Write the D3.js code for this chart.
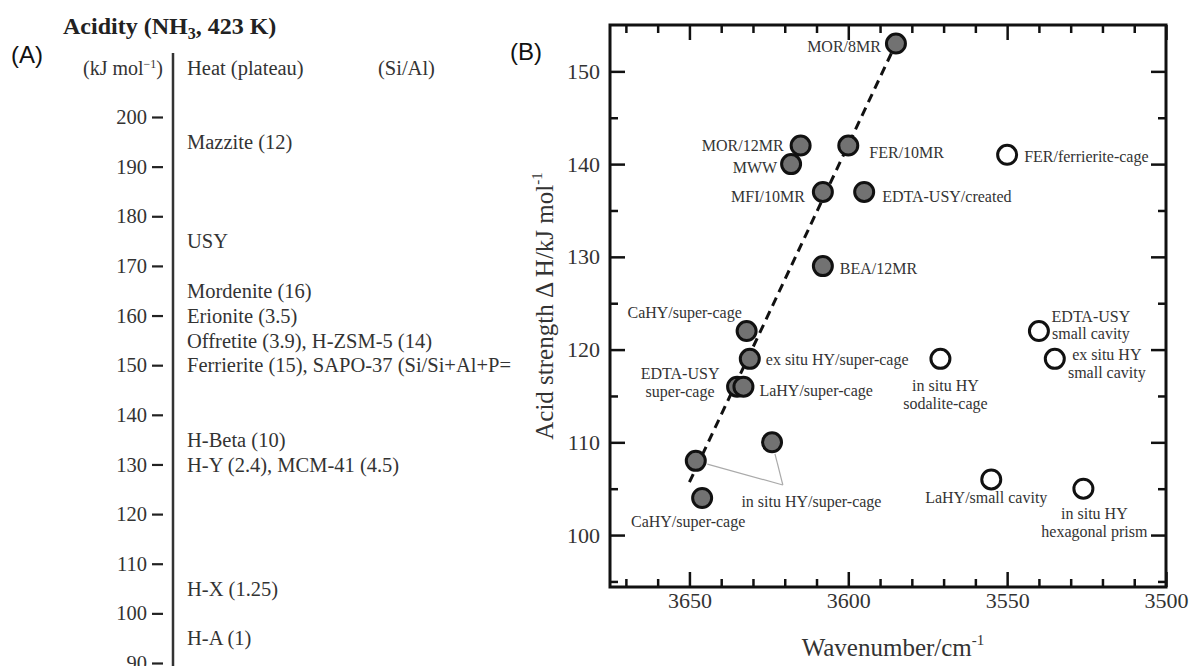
<!DOCTYPE html>
<meta charset="utf-8">
<style>
  body {
    margin: 0;
    background-color: white;
  }
  svg text {
    font-family: "Liberation Serif", "Times New Roman", serif;
  }
</style>
<script src="https://cdn.jsdelivr.net/npm/d3@7"></script>
<body>
<div id="chart"></div>
<script>
// ---- panel (A): heat of NH3 adsorption ladder
const heatTicks = [90, 100, 110, 120, 130, 140, 150, 160, 170, 180, 190, 200];
const zeoliteNames = ["Mazzite (12)", "USY", "Mordenite (16)", "Erionite (3.5)",
  "Offretite (3.9), H-ZSM-5 (14)", "Ferrierite (15), SAPO-37 (Si/Si+Al+P=",
  "H-Beta (10)", "H-Y (2.4), MCM-41 (4.5)", "H-X (1.25)", "H-A (1)"];
const zeoliteHeat = [195, 175, 165, 160, 155, 150, 135, 130, 105, 95];

// ---- panel (B): acid strength vs OH wavenumber
const siteNames = ["MOR/8MR", "MOR/12MR", "MWW", "FER/10MR", "MFI/10MR", "EDTA-USY/created",
  "BEA/12MR", "CaHY/super-cage", "ex situ HY/super-cage", "EDTA-USY\nsuper-cage",
  "LaHY/super-cage", "", "", "CaHY/super-cage",
  "FER/ferrierite-cage", "EDTA-USY\nsmall cavity", "ex situ HY\nsmall cavity",
  "in situ HY\nsodalite-cage", "LaHY/small cavity", "in situ HY\nhexagonal prism"];
const wavenumber = [3585, 3615, 3618, 3600, 3608, 3595, 3608, 3632, 3631, 3635,
  3633, 3648, 3624, 3646, 3550, 3540, 3535, 3571, 3555, 3526];
const strength = [153, 142, 140, 142, 137, 137, 129, 122, 119, 116,
  116, 108, 110, 104, 141, 122, 119, 119, 106, 105];
const siteOpen = [0, 0, 0, 0, 0, 0, 0, 0, 0, 0, 0, 0, 0, 0, 1, 1, 1, 1, 1, 1];

const fitWavenumber = [3650, 3585];
const fitStrength = [105.7, 153];

const xMajor = [3650, 3600, 3550, 3500];
const yMajor = [100, 110, 120, 130, 140, 150];

// label placement (pixel offsets from each point): [dx, dy, anchor]
const labelPlace = [
  [-15, 3, "end"], [-17, 0, "end"], [-14, 3, "end"], [21, 7, "start"], [-18, 4, "end"],
  [18, 4, "start"], [17, 2, "start"], [-62, -19, "middle"], [16, 1, "start"], [-57, -13, "middle"],
  [16, 4, "start"], null, null, [-14, 23, "middle"], [17, 2, "start"],
  [52, -15, "middle"], [52, -4, "middle"], [5, 27, "middle"], [-5, 18, "middle"], [11, 25, "middle"]
];

const W = 1189, H = 666;
const SERIF = "'Liberation Serif', 'Times New Roman', serif";
const svg = d3.select("#chart").append("svg")
  .attr("width", W).attr("height", H)
  .style("display", "block");

svg.append("defs").append("clipPath").attr("id", "clipA")
  .append("rect").attr("x", 0).attr("y", 0).attr("width", 518).attr("height", H);

// ===================== panel A
const gA = svg.append("g").attr("clip-path", "url(#clipA)");
const yA = d3.scaleLinear().domain([90, 200]).range([663, 117]);

gA.append("text")
  .attr("x", 11).attr("y", 55).attr("dy", "0.35em")
  .style("font-family", "'Liberation Sans', Arial, sans-serif")
  .attr("font-size", 24).attr("fill", "#111")
  .text("(A)");

let title = gA.append("text")
  .attr("x", 63).attr("y", 34)
  .attr("font-size", 24).attr("font-weight", "bold").attr("fill", "#222");
title.append("tspan").text("Acidity (NH");
title.append("tspan").attr("font-size", 16).attr("dy", 5).text("3");
title.append("tspan").attr("dy", -5).text(", 423 K)");

let unitA = gA.append("text")
  .attr("x", 163).attr("y", 68).attr("dy", "0.35em").attr("text-anchor", "end")
  .attr("font-size", 20).attr("fill", "#333");
unitA.append("tspan").text("(kJ mol");
unitA.append("tspan").attr("font-size", 12).attr("dy", -7).text("−1");
unitA.append("tspan").attr("dy", 7).text(")");

gA.append("text").attr("x", 187).attr("y", 68).attr("dy", "0.35em")
  .attr("font-size", 20.5).attr("fill", "#333").text("Heat (plateau)");
gA.append("text").attr("x", 378).attr("y", 68).attr("dy", "0.35em")
  .attr("font-size", 20.5).attr("fill", "#333").text("(Si/Al)");

gA.append("line")
  .attr("x1", 173).attr("x2", 173).attr("y1", 53).attr("y2", H)
  .attr("stroke", "#333").attr("stroke-width", 2.5);

const axA = gA.append("g")
  .attr("transform", "translate(163,0)")
  .call(d3.axisLeft(yA).tickValues(heatTicks).tickSize(11).tickPadding(5));
axA.select(".domain").remove();
axA.selectAll(".tick line").attr("stroke", "#222").attr("stroke-width", 2.2);
axA.selectAll(".tick text")
  .attr("font-size", 20.5).attr("fill", "#333")
  .style("font-family", SERIF);

gA.selectAll("text.zeolite")
  .data(zeoliteNames)
  .enter()
  .append("text")
    .attr("class", "zeolite")
    .attr("x", 187)
    .attr("y", (d, i) => yA(zeoliteHeat[i]))
    .attr("dy", "0.35em")
    .attr("font-size", 20.5)
    .attr("fill", "#333")
    .text(d => d);

// ===================== panel B
const x = d3.scaleLinear().domain([3675, 3500]).range([610, 1166]);
const y = d3.scaleLinear().domain([94.4, 155]).range([587, 25]);

svg.append("text")
  .attr("x", 510).attr("y", 52).attr("dy", "0.35em")
  .style("font-family", "'Liberation Sans', Arial, sans-serif")
  .attr("font-size", 24).attr("fill", "#111")
  .text("(B)");

const minorX = d3.range(3670, 3499, -10).filter(v => xMajor.indexOf(v) < 0);
const minorY = d3.range(95, 155, 5).filter(v => yMajor.indexOf(v) < 0);

function styleAxis(g) {
  g.attr("font-family", null);
  g.select(".domain").remove();
  g.selectAll(".tick line").attr("stroke", "#111").attr("stroke-width", 2.5);
  g.selectAll(".tick text").attr("fill", "#333").attr("font-size", 22)
    .style("font-family", SERIF);
}

// bottom
svg.append("g").attr("transform", "translate(0,587)")
  .call(d3.axisBottom(x).tickValues(xMajor).tickSize(-15).tickPadding(5).tickFormat(d3.format("d")))
  .call(styleAxis);
svg.append("g").attr("transform", "translate(0,587)")
  .call(d3.axisBottom(x).tickValues(minorX).tickSize(-8).tickFormat("")).call(styleAxis);
// top
svg.append("g").attr("transform", "translate(0,25)")
  .call(d3.axisTop(x).tickValues(xMajor).tickSize(-15).tickFormat("")).call(styleAxis);
svg.append("g").attr("transform", "translate(0,25)")
  .call(d3.axisTop(x).tickValues(minorX).tickSize(-8).tickFormat("")).call(styleAxis);
// left
svg.append("g").attr("transform", "translate(610,0)")
  .call(d3.axisLeft(y).tickValues(yMajor).tickSize(-15).tickPadding(10)).call(styleAxis);
svg.append("g").attr("transform", "translate(610,0)")
  .call(d3.axisLeft(y).tickValues(minorY).tickSize(-8).tickFormat("")).call(styleAxis);
// right
svg.append("g").attr("transform", "translate(1166,0)")
  .call(d3.axisRight(y).tickValues(yMajor).tickSize(-15).tickFormat("")).call(styleAxis);
svg.append("g").attr("transform", "translate(1166,0)")
  .call(d3.axisRight(y).tickValues(minorY).tickSize(-8).tickFormat("")).call(styleAxis);

// frame
svg.append("rect")
  .attr("x", 610).attr("y", 25)
  .attr("width", 1166 - 610).attr("height", 587 - 25)
  .attr("fill", "none").attr("stroke", "#111").attr("stroke-width", 3);

// axis titles
let xt = svg.append("text")
  .attr("x", 893).attr("y", 656).attr("text-anchor", "middle")
  .attr("font-size", 25).attr("fill", "#333");
xt.append("tspan").text("Wavenumber/cm");
xt.append("tspan").attr("font-size", 15).attr("dy", -11).text("-1");

let yt = svg.append("text")
  .attr("transform", "translate(553,306) rotate(-90)")
  .attr("text-anchor", "middle")
  .attr("font-size", 25).attr("fill", "#333");
yt.append("tspan").text("Acid strength  Δ H/kJ mol");
yt.append("tspan").attr("font-size", 15).attr("dy", -11).text("-1");

// dashed fit line
svg.append("path")
  .datum(d3.zip(fitWavenumber, fitStrength))
  .attr("d", d3.line().x(d => x(d[0])).y(d => y(d[1])))
  .attr("fill", "none").attr("stroke", "#111")
  .attr("stroke-width", 3).attr("stroke-dasharray", "9,6");

// leader lines for the unlabelled in situ HY super-cage points
const leaderLabel = [3611.6, 103.6];
const leaderApex = [3620.6, 105.4];
const leaderFrom = [11, 12];
leaderFrom.forEach(i => {
  const px = x(wavenumber[i]), py = y(strength[i]);
  const ax = x(leaderApex[0]), ay = y(leaderApex[1]);
  const len = Math.hypot(ax - px, ay - py);
  svg.append("line")
    .attr("x1", px + (ax - px) / len * 12).attr("y1", py + (ay - py) / len * 12)
    .attr("x2", ax).attr("y2", ay)
    .attr("stroke", "#aaa").attr("stroke-width", 1.2);
});
svg.append("text")
  .attr("x", x(leaderLabel[0])).attr("y", y(leaderLabel[1])).attr("dy", "0.35em")
  .attr("text-anchor", "middle").attr("font-size", 16).attr("fill", "#333")
  .text("in situ HY/super-cage");

// points
svg.selectAll("circle.site")
  .data(siteNames)
  .enter()
  .append("circle")
    .attr("class", "site")
    .attr("cx", (d, i) => x(wavenumber[i]))
    .attr("cy", (d, i) => y(strength[i]))
    .attr("r", 9.5)
    .attr("fill", (d, i) => siteOpen[i] ? "white" : "#727272")
    .attr("stroke", "#111")
    .attr("stroke-width", 3);

// point labels
siteNames.forEach((name, i) => {
  const p = labelPlace[i];
  if (!p || !name) return;
  const lines = name.split("\n");
  const t = svg.append("text")
    .attr("text-anchor", p[2])
    .attr("font-size", 16)
    .attr("fill", "#333");
  lines.forEach((ln, k) => {
    t.append("tspan")
      .attr("x", x(wavenumber[i]) + p[0])
      .attr("y", y(strength[i]) + p[1] + k * 17.5)
      .attr("dy", "0.35em")
      .text(ln);
  });
});
</script>
</body>
